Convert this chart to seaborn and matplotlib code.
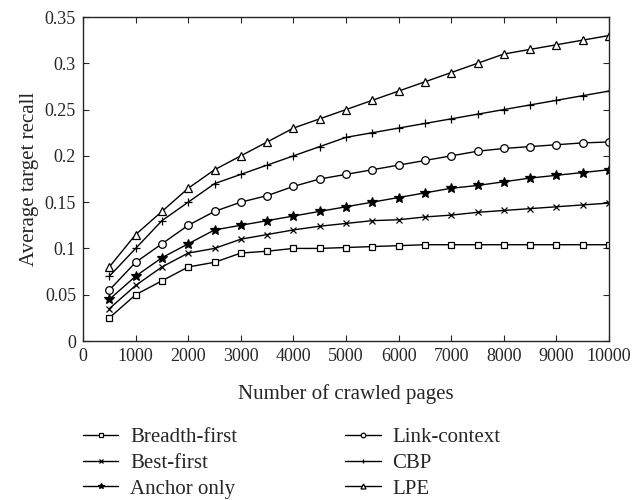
import pandas as pd
import matplotlib
matplotlib.use("Agg")
import matplotlib.pyplot as plt
import seaborn as sns

# Data
pages = [500, 1000, 1500, 2000, 2500, 3000, 3500, 4000, 4500, 5000,
         5500, 6000, 6500, 7000, 7500, 8000, 8500, 9000, 9500, 10000]
breadth_first = [0.025, 0.05, 0.065, 0.08, 0.085, 0.095, 0.097, 0.1, 0.1, 0.101,
                 0.102, 0.103, 0.104, 0.104, 0.104, 0.104, 0.104, 0.104, 0.104, 0.104]
best_first = [0.035, 0.06, 0.08, 0.095, 0.1, 0.11, 0.115, 0.12, 0.124, 0.127,
              0.13, 0.131, 0.134, 0.136, 0.139, 0.141, 0.143, 0.145, 0.147, 0.149]
anchor_only = [0.045, 0.07, 0.09, 0.105, 0.12, 0.125, 0.13, 0.135, 0.14, 0.145,
               0.15, 0.155, 0.16, 0.165, 0.168, 0.172, 0.176, 0.179, 0.182, 0.185]
link_context = [0.055, 0.085, 0.105, 0.125, 0.14, 0.15, 0.157, 0.167, 0.175, 0.18,
                0.185, 0.19, 0.195, 0.2, 0.205, 0.208, 0.21, 0.212, 0.214, 0.215]
cbp = [0.07, 0.1, 0.13, 0.15, 0.17, 0.18, 0.19, 0.2, 0.21, 0.22,
       0.225, 0.23, 0.235, 0.24, 0.245, 0.25, 0.255, 0.26, 0.265, 0.27]
lpe = [0.08, 0.115, 0.14, 0.165, 0.185, 0.2, 0.215, 0.23, 0.24, 0.25,
       0.26, 0.27, 0.28, 0.29, 0.3, 0.31, 0.315, 0.32, 0.325, 0.33]

methods = ["Breadth-first", "Best-first", "Anchor only", "Link-context", "CBP", "LPE"]
series = [breadth_first, best_first, anchor_only, link_context, cbp, lpe]
markers = {"Breadth-first": "s", "Best-first": "x", "Anchor only": "*",
           "Link-context": "o", "CBP": "+", "LPE": "^"}
msizes = {"Breadth-first": 4.5, "Best-first": 4, "Anchor only": 7,
          "Link-context": 5.5, "CBP": 5.5, "LPE": 6}

rows = []
for m, vals in zip(methods, series):
    for p, v in zip(pages, vals):
        rows.append({"Pages": p, "Recall": v, "Method": m})
df = pd.DataFrame(rows)

sns.set_style("ticks")
plt.rcParams['font.family'] = ['Liberation Serif', 'DejaVu Serif']
plt.rcParams['xtick.direction'] = 'in'
plt.rcParams['ytick.direction'] = 'in'

fig = plt.figure(figsize=(6.34, 5.0), dpi=100)
ax = fig.add_axes([0.131, 0.318, 0.8296, 0.648])

for m in methods:
    d = df[df["Method"] == m]
    filled = m == "Anchor only"
    sns.lineplot(data=d, x="Pages", y="Recall", ax=ax, color="black", linewidth=1.0,
                 marker=markers[m], markersize=msizes[m],
                 markerfacecolor="black" if filled else "white",
                 markeredgecolor="black", markeredgewidth=0.9, label=m)

ax.set_xlim(0, 10000)
ax.set_ylim(0, 0.35)
ax.set_xticks(range(0, 10001, 1000))
ax.set_yticks([0, 0.05, 0.1, 0.15, 0.2, 0.25, 0.3, 0.35])
ax.set_yticklabels(["0", "0.05", "0.1", "0.15", "0.2", "0.25", "0.3", "0.35"])
ax.tick_params(axis="both", labelsize=13, length=4, width=0.8,
               top=True, right=True, pad=5)
for s in ax.spines.values():
    s.set_linewidth(1.0)
ax.set_xlabel("Number of crawled pages", fontsize=15, labelpad=14)
ax.set_ylabel("Average target recall", fontsize=15, labelpad=4)

handles, labels = ax.get_legend_handles_labels()
ax.legend_.remove()
fig.legend(handles, labels, loc="upper left", bbox_to_anchor=(0.131, 0.145),
           ncol=2, frameon=False, fontsize=15, handlelength=1.7,
           handletextpad=0.55, columnspacing=5.2, labelspacing=0.3,
           markerscale=0.6, borderaxespad=0, borderpad=0)
fig.savefig("out.png", dpi=100)
